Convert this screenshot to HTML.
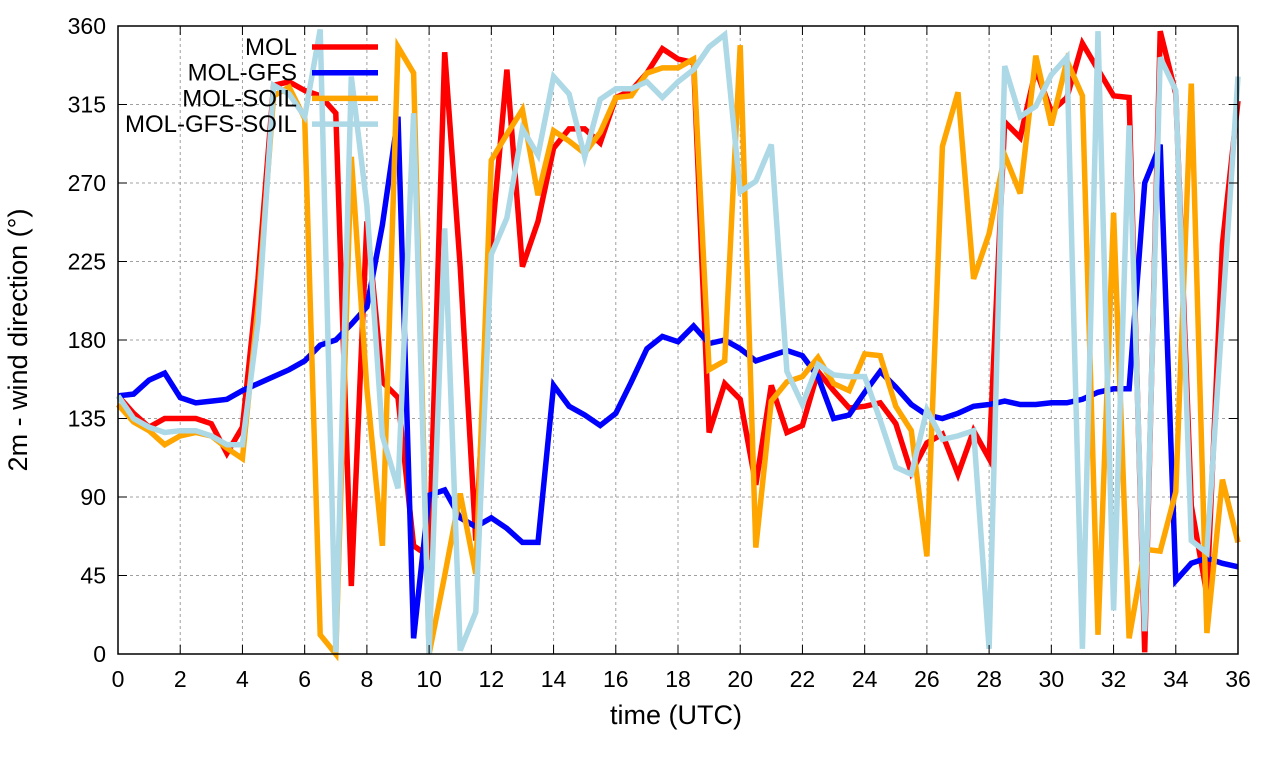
<!DOCTYPE html>
<html><head><meta charset="utf-8"><style>
body{margin:0;background:#fff}
svg text{font-family:"Liberation Sans",sans-serif;fill:#000}
</style></head><body>
<svg id="chart" width="1280" height="760" xmlns="http://www.w3.org/2000/svg">
<rect width="1280" height="760" fill="#fff"/>
<g id="grid"></g>
<g id="series"></g>
<rect x="118" y="26" width="1120" height="628" fill="none" stroke="#000" stroke-width="1.5"/>
<g id="axes"></g>
<text transform="translate(27,340) rotate(-90)" text-anchor="middle" font-size="27">2m - wind direction (°)</text>
<text x="676" y="724" text-anchor="middle" font-size="27">time (UTC)</text>
<g id="legend"></g>
</svg>
<script>
const xTicks=[0,2,4,6,8,10,12,14,16,18,20,22,24,26,28,30,32,34,36];
const yTicks=[0,45,90,135,180,225,270,315,360];
const seriesNames=["MOL","MOL-GFS","MOL-SOIL","MOL-GFS-SOIL"];
const seriesColors=["#ff0000","#0000ff","#ffa500","#add8e6"];
const mol=[148,138,130,135,135,135,132,115,130,215,326,328,323,320,310,39,248,156,147,62,56,345,222,65,235,335,222,248,290,301,301,293,319,323,333,347,341,339,127,155,146,97,154,127,131,162,151,141,142,144,132,104,121,126,103,128,112,305,296,335,311,319,350,335,320,319,1,357,321,85,34,235,317];
const molGfs=[148,149,157,161,147,144,145,146,151,155,159,163,168,177,180,189,199,246,308,9,91,94,78,73,78,72,64,64,154,142,137,131,138,156,175,182,179,188,178,180,175,168,171,174,171,159,135,137,150,162,153,143,137,135,138,142,143,145,143,143,144,144,146,150,152,152,270,292,42,52,55,52,50];
const molSoil=[143,133,128,120,125,127,125,118,112,200,320,325,307,11,0,285,152,62,348,333,0,45,92,46,283,298,312,263,300,294,287,299,319,320,333,336,336,341,163,168,349,61,145,156,159,170,155,151,172,171,142,128,56,291,322,215,241,286,264,343,303,340,320,11,253,9,60,59,93,327,12,100,64];
const molGfsSoil=[148,135,130,127,128,128,125,120,120,190,326,321,308,358,1,331,257,125,95,310,0,244,2,24,229,250,301,286,331,321,285,318,324,324,328,319,328,335,348,355,265,271,292,162,143,166,160,159,159,134,107,103,140,123,125,128,3,337,308,314,332,342,3,357,25,303,13,342,323,65,58,195,331];
const allSeries=[mol,molGfs,molSoil,molGfsSoil];
const X0=118,X1=1238,Y0=654,Y1=26;
const xs=t=>X0+(t/36)*(X1-X0);
const ys=v=>Y0-(v/360)*(Y0-Y1);
const NS="http://www.w3.org/2000/svg";
function mk(tag,attrs,parent){const e=document.createElementNS(NS,tag);for(const k in attrs)e.setAttribute(k,attrs[k]);parent.appendChild(e);return e;}
const grid=document.getElementById('grid'),axes=document.getElementById('axes');
xTicks.forEach(t=>{
  if(t>0&&t<36){const g=mk('line',{x1:xs(t),x2:xs(t),y1:Y1,y2:Y0,stroke:'#a0a0a0','stroke-dasharray':'3,3','stroke-width':1},grid);
  
  }
  const tk=mk('path',{d:`M${xs(t)},${Y0}v-9M${xs(t)},${Y1}v9`,stroke:'#000','stroke-width':1},axes);
  
  
  const lb=mk('text',{x:xs(t),y:Y0+33,'text-anchor':'middle','font-size':23},axes);lb.textContent=t;
  
  
});
yTicks.forEach(v=>{
  if(v>0&&v<360){const g=mk('line',{x1:X0,x2:X1,y1:ys(v),y2:ys(v),stroke:'#a0a0a0','stroke-dasharray':'3,3','stroke-width':1},grid);
  
  }
  const tk=mk('path',{d:`M${X0},${ys(v)}h9M${X1},${ys(v)}h-9`,stroke:'#000','stroke-width':1},axes);
  
  
  const lb=mk('text',{x:X0-12,y:ys(v)+8,'text-anchor':'end','font-size':23},axes);lb.textContent=v;
  
  
});
const sg=document.getElementById('series');
allSeries.forEach((arr,i)=>{
  const pts=arr.map((v,k)=>xs(k*0.5).toFixed(1)+','+ys(v).toFixed(1)).join(' ');
  const pl=mk('polyline',{points:pts,fill:'none',stroke:seriesColors[i],'stroke-width':5.5,'stroke-linejoin':'miter'},sg);
  
  
});
const lg=document.getElementById('legend');
seriesNames.forEach((n,i)=>{
  const y=47+i*25.7;
  const t=mk('text',{x:297,y:y+8,'text-anchor':'end','font-size':24},lg);t.textContent=n;
  
  
  const l=mk('line',{x1:312,x2:378,y1:y,y2:y,stroke:seriesColors[i],'stroke-width':5.5},lg);
  
  
});
</script>
</body></html>
